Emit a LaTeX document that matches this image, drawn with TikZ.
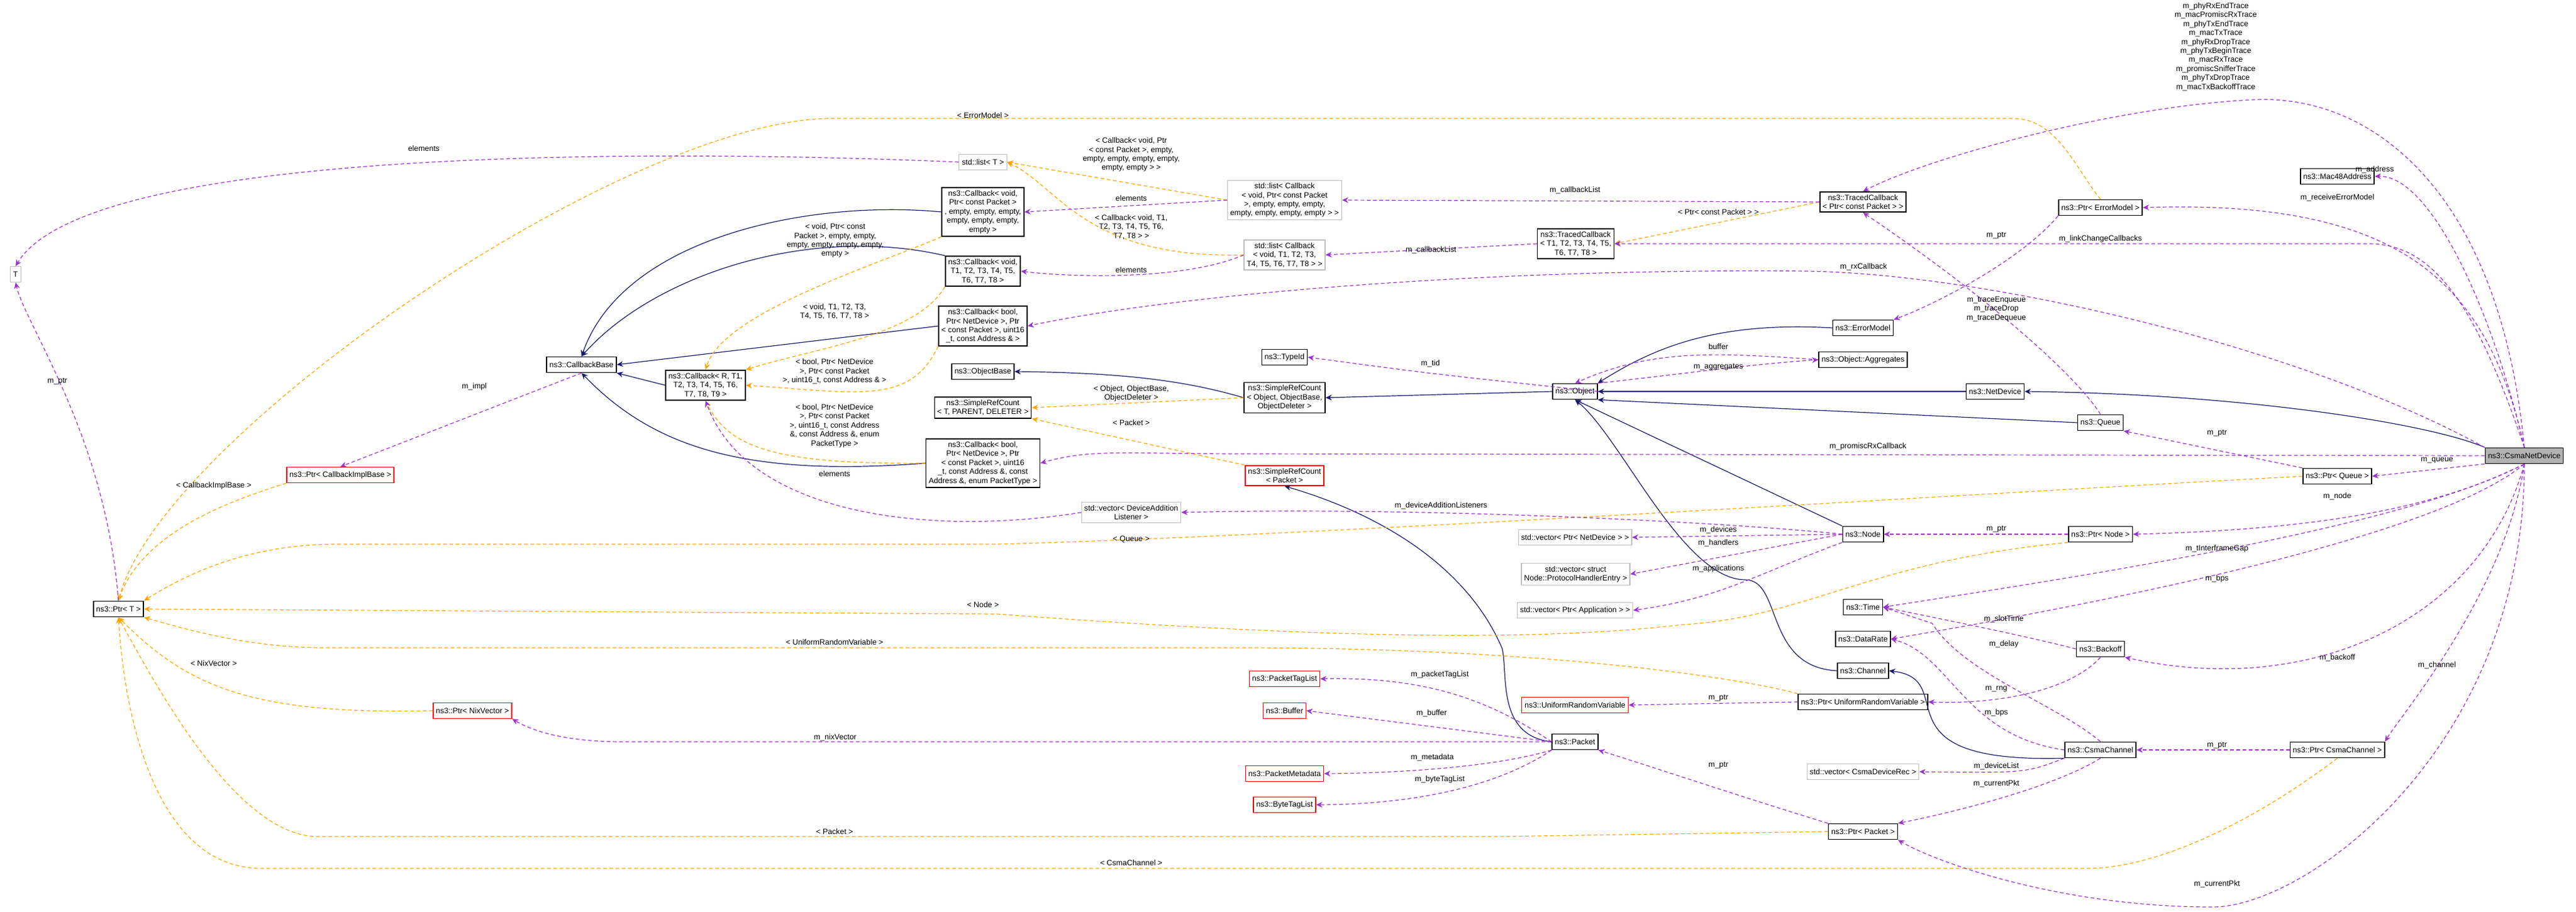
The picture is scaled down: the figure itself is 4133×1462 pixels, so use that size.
\documentclass[tikz,border=0pt]{standalone}
\usepackage{fontspec}
\setmainfont{Liberation Sans}
\usetikzlibrary{arrows.meta}
\usetikzlibrary{positioning}

\definecolor{inhblue}{RGB}{25,25,112}
\definecolor{usepurple}{RGB}{154,50,205}
\definecolor{tplorange}{RGB}{255,165,0}

\tikzset{
  box/.style={draw=black,line width=0.8pt,fill=white,inner sep=2.2pt,minimum height=12.5pt,align=center,font=\fontsize{6.2}{7.2}\selectfont},
  graybox/.style={box,draw=black!25,line width=0.6pt},
  redbox/.style={box,draw=red,line width=0.7pt},
  focus/.style={box,fill=black!30},
  lbl/.style={inner sep=0pt,align=center,font=\fontsize{6.2}{7.2}\selectfont},
  inh/.style={draw=inhblue,line width=0.6pt,-{Stealth[length=5pt,width=4.5pt]}},
  use/.style={draw=usepurple,line width=0.6pt,dashed,dash pattern=on 3pt off 2pt,-{Stealth[length=5pt,width=4.5pt]}},
  tpl/.style={draw=tplorange,line width=0.6pt,dashed,dash pattern=on 3pt off 2pt,-{Stealth[length=5pt,width=4.5pt]}}
}

\begin{document}
\begin{tikzpicture}[x=0.5pt,y=-0.5pt]
      \useasboundingbox (0,0) rectangle (4133,1462);
      % nodes
      \node[graybox] (T) at (25,440) {T};
      \node[box] (ptrT) at (190,977) {ns3::Ptr< T >};
      \node[box] (cbBase) at (933,585) {ns3::CallbackBase};
      \node[redbox] (ptrCbImpl) at (546,762) {ns3::Ptr< CallbackImplBase >};
      \node[redbox] (ptrNix) at (758,1140) {ns3::Ptr< NixVector >};
      \node[box] (cbR) at (1132,618) {ns3::Callback< R, T1,\\ T2, T3, T4, T5, T6,\\ T7, T8, T9 >};
      \node[graybox] (listT) at (1577,260) {std::list< T >};
      \node[box] (cbVoidPkt) at (1577,340) {ns3::Callback< void,\\ Ptr< const Packet >\\ , empty, empty, empty,\\ empty, empty, empty,\\ empty >};
      \node[box] (cbVoidT) at (1577,435) {ns3::Callback< void,\\ T1, T2, T3, T4, T5,\\ T6, T7, T8 >};
      \node[box] (cbBoolAddr) at (1577,523) {ns3::Callback< bool,\\ Ptr< NetDevice >, Ptr\\ < const Packet >, uint16\\ \_t, const Address \& >};
      \node[box] (objBase) at (1577,596) {ns3::ObjectBase};
      \node[box] (srcT) at (1577,654) {ns3::SimpleRefCount\\ < T, PARENT, DELETER >};
      \node[box] (cbBoolPkt) at (1577,743) {ns3::Callback< bool,\\ Ptr< NetDevice >, Ptr\\ < const Packet >, uint16\\ \_t, const Address \&, const\\ Address \&, enum PacketType >};
      \node[graybox] (devAddList) at (1815,822) {std::vector< DeviceAddition\\ Listener >};
      \node[graybox] (listCbPkt) at (2061,321) {std::list< Callback\\ < void, Ptr< const Packet\\ >, empty, empty, empty,\\ empty, empty, empty, empty > >};
      \node[graybox] (listCbT) at (2061,409) {std::list< Callback\\ < void, T1, T2, T3,\\ T4, T5, T6, T7, T8 > >};
      \node[box] (typeId) at (2061,573) {ns3::TypeId};
      \node[box] (srcObj) at (2061,638) {ns3::SimpleRefCount\\ < Object, ObjectBase,\\ ObjectDeleter >};
      \node[redbox] (srcPkt) at (2061,763) {ns3::SimpleRefCount\\ < Packet >};
      \node[redbox] (pktTagList) at (2061,1089) {ns3::PacketTagList};
      \node[redbox] (buffer) at (2061,1140) {ns3::Buffer};
      \node[redbox] (pktMeta) at (2061,1241) {ns3::PacketMetadata};
      \node[redbox] (byteTagList) at (2061,1291) {ns3::ByteTagList};
      \node[box] (tcT) at (2528,391) {ns3::TracedCallback\\ < T1, T2, T3, T4, T5,\\ T6, T7, T8 >};
      \node[box] (object) at (2527,628) {ns3::Object};
      \node[graybox] (vecNetDev) at (2527,862) {std::vector< Ptr< NetDevice > >};
      \node[graybox] (vecHandler) at (2528,921) {std::vector< struct\\ Node::ProtocolHandlerEntry >};
      \node[graybox] (vecApp) at (2527,979) {std::vector< Ptr< Application > >};
      \node[redbox] (urv) at (2527,1131) {ns3::UniformRandomVariable};
      \node[box] (packet) at (2527,1190) {ns3::Packet};
      \node[box] (tcPkt) at (2989,324) {ns3::TracedCallback\\ < Ptr< const Packet > >};
      \node[box] (errModel) at (2989,526) {ns3::ErrorModel};
      \node[box] (aggregates) at (2989,577) {ns3::Object::Aggregates};
      \node[box] (node) at (2989,857) {ns3::Node};
      \node[box] (time) at (2989,974) {ns3::Time};
      \node[box] (dataRate) at (2989,1025) {ns3::DataRate};
      \node[box] (channel) at (2989,1076) {ns3::Channel};
      \node[box] (ptrUrv) at (2989,1126) {ns3::Ptr< UniformRandomVariable >};
      \node[graybox] (vecCsmaRec) at (2989,1238) {std::vector< CsmaDeviceRec >};
      \node[box] (ptrPkt) at (2989,1334) {ns3::Ptr< Packet >};
      \node[box] (netDevice) at (3201,628) {ns3::NetDevice};
      \node[box] (ptrErr) at (3370,333) {ns3::Ptr< ErrorModel >};
      \node[box] (queue) at (3370,678) {ns3::Queue};
      \node[box] (ptrNode) at (3370,857) {ns3::Ptr< Node >};
      \node[box] (backoff) at (3370,1041) {ns3::Backoff};
      \node[box] (csmaChannel) at (3370,1203) {ns3::CsmaChannel};
      \node[box] (mac48) at (3750,283) {ns3::Mac48Address};
      \node[box] (ptrQueue) at (3750,764) {ns3::Ptr< Queue >};
      \node[box] (ptrCsmaChannel) at (3750,1203) {ns3::Ptr< CsmaChannel >};
      \node[focus] (csmaDev) at (4050,731) {ns3::CsmaNetDevice};

      % inheritance
      \draw[inh] (cbVoidPkt.west) .. controls (1300,320) and (1000,380) .. (cbBase.north);
      \draw[inh] (cbVoidT.north west) .. controls (1300,360) and (1050,440) .. (cbBase.north);
      \draw[inh] (cbBoolAddr.west) -- (cbBase.east);
      \draw[inh] (cbR.west) -- (cbBase.south east);
      \draw[inh] (cbBoolPkt.west) .. controls (1200,765) and (1050,720) .. (cbBase.south);
      \draw[inh] (srcObj.west) .. controls (1900,610) and (1800,598) .. (objBase.east);
      \draw[inh] (object.west) -- (srcObj.east);
      \draw[inh] (errModel.west) .. controls (2750,515) and (2650,560) .. (object.north east);
      \draw[inh] (netDevice.west) -- (object.east);
      \draw[inh] (queue.west) -- (object.south east);
      \draw[inh] (node.north west) -- (object.south);
      \draw[inh] (channel.west) .. controls (2830,1070) and (2860,930) .. (2800,930) .. controls (2700,930) and (2600,700) .. (object.south);
      \draw[inh] (csmaDev.north west) .. controls (3900,680) and (3600,632) .. (netDevice.east);
      \draw[inh] (csmaChannel.south west) .. controls (3000,1225) and (3150,1090) .. (channel.east);
      \draw[inh] (packet.west) .. controls (2400,1180) and (2420,1080) .. (2410,1040) .. controls (2350,900) and (2200,820) .. (srcPkt.south);

      % templates
      \draw[tpl] (listCbPkt.west) -- (listT.east);
      \draw[tpl] (listCbT.west) .. controls (1740,415) and (1700,300) .. (listT.east);
      \draw[tpl] (cbVoidPkt.south west) .. controls (1420,420) and (1160,500) .. (cbR.north);
      \draw[tpl] (cbVoidT.south west) .. controls (1470,540) and (1300,560) .. (cbR.north east);
      \draw[tpl] (cbBoolAddr.south west) .. controls (1460,650) and (1380,630) .. (cbR.east);
      \draw[tpl] (cbBoolPkt.west) .. controls (1250,745) and (1170,720) .. (cbR.south);
      \draw[tpl] (tcPkt.west) -- (tcT.east);
      \draw[tpl] (srcObj.west) -- (srcT.east);
      \draw[tpl] (srcPkt.north west) -- (srcT.south east);
      \draw[tpl] (ptrErr.north) .. controls (3330,270) and (3300,190) .. (3230,190) -- (1330,190) .. controls (1000,195) and (260,700) .. (ptrT.north);
      \draw[tpl] (ptrCbImpl.south west) .. controls (380,800) and (230,850) .. (ptrT.north);
      \draw[tpl] (ptrQueue.west) .. controls (3200,790) and (2100,860) .. (1600,873) -- (540,873) .. controls (400,873) and (300,920) .. (ptrT.north east);
      \draw[tpl] (ptrNode.south west) .. controls (3000,900) and (2900,990) .. (2700,1002) .. controls (2500,1025) and (2200,1030) .. (1600,985) -- (ptrT.east);
      \draw[tpl] (ptrUrv.north west) .. controls (2800,1090) and (2500,1040) .. (2000,1039) -- (520,1039) .. controls (400,1039) and (300,1010) .. (ptrT.south east);
      \draw[tpl] (ptrNix.west) .. controls (400,1147) and (300,1100) .. (ptrT.south);
      \draw[tpl] (ptrPkt.west) -- (2400,1342) -- (510,1342) .. controls (380,1342) and (250,1100) .. (ptrT.south);
      \draw[tpl] (ptrCsmaChannel.south) .. controls (3600,1330) and (3450,1393) .. (3350,1393) -- (420,1393) .. controls (250,1393) and (200,1150) .. (ptrT.south);

      % members
      \draw[use] (ptrT.north) .. controls (170,700) and (40,520) .. (T.south);
      \draw[use] (listT.west) .. controls (1200,245) and (150,220) .. (T.north);
      \draw[use] (cbBase.south) -- (ptrCbImpl.north);
      \draw[use] (listCbPkt.west) -- (cbVoidPkt.east);
      \draw[use] (listCbT.west) .. controls (1900,450) and (1720,445) .. (cbVoidT.east);
      \draw[use] (tcPkt.west) -- (listCbPkt.east);
      \draw[use] (tcT.west) -- (listCbT.east);
      \draw[use] (devAddList.west) .. controls (1500,860) and (1200,830) .. (cbR.south);
      \draw[use] (csmaDev.north) .. controls (4010,300) and (3800,150) .. (3615,160) .. controls (3400,170) and (3100,250) .. (tcPkt.north);
      \draw[use] (csmaDev.north) .. controls (4000,500) and (3900,280) .. (mac48.east);
      \draw[use] (csmaDev.north) .. controls (3990,450) and (3850,320) .. (ptrErr.east);
      \draw[use] (csmaDev.north) .. controls (3970,480) and (3900,391) .. (3800,391) -- (tcT.east);
      \draw[use] (csmaDev.north west) .. controls (3700,560) and (3200,440) .. (2900,435) .. controls (2400,430) and (1900,470) .. (cbBoolAddr.east);
      \draw[use] (csmaDev.west) -- (2000,728) .. controls (1800,728) and (1750,720) .. (cbBoolPkt.east);
      \draw[use] (ptrErr.south west) .. controls (3240,420) and (3100,490) .. (errModel.north east);
      \draw[use] (queue.north) .. controls (3330,600) and (3180,470) .. (tcPkt.south);
      \draw[use] (object.east) .. controls (2300,600) .. (typeId.east);
      \draw[use] (object.north east) .. controls (2700,600) and (2800,585) .. (aggregates.west);
      \draw[use] (aggregates.west) .. controls (2750,565) and (2650,560) .. (object.north);
      \draw[use] (ptrQueue.north west) -- (queue.south east);
      \draw[use] (csmaDev.south west) -- (ptrQueue.east);
      \draw[use] (node.west) .. controls (2800,840) and (2300,812) .. (devAddList.east);
      \draw[use] (node.west) -- (vecNetDev.east);
      \draw[use] (node.west) -- (vecHandler.east);
      \draw[use] (node.south west) .. controls (2820,920) and (2760,960) .. (vecApp.east);
      \draw[use] (ptrNode.west) -- (node.east);
      \draw[use] (csmaDev.south) .. controls (3900,820) and (3700,850) .. (ptrNode.east);
      \draw[use] (csmaDev.south) .. controls (3850,850) and (3300,930) .. (time.east);
      \draw[use] (csmaDev.south) .. controls (3900,870) and (3300,980) .. (dataRate.east);
      \draw[use] (csmaDev.south) .. controls (3980,1000) and (3700,1120) .. (backoff.south east);
      \draw[use] (csmaDev.south) .. controls (4020,950) and (3850,1150) .. (ptrCsmaChannel.north east);
      \draw[use] (csmaDev.south) .. controls (4050,1200) and (3700,1455) .. (3550,1455) .. controls (3300,1455) and (3100,1380) .. (ptrPkt.south east);
      \draw[use] (backoff.west) .. controls (3250,1020) and (3100,990) .. (time.east);
      \draw[use] (csmaChannel.north) .. controls (3300,1130) and (3150,1080) .. (3100,1000) -- (time.east);
      \draw[use] (backoff.south) .. controls (3320,1110) and (3200,1130) .. (ptrUrv.east);
      \draw[use] (csmaChannel.west) .. controls (3150,1180) and (3130,1050) .. (dataRate.east);
      \draw[use] (ptrUrv.west) -- (urv.east);
      \draw[use] (ptrCsmaChannel.west) -- (csmaChannel.east);
      \draw[use] (csmaChannel.south west) .. controls (3250,1240) .. (vecCsmaRec.east);
      \draw[use] (csmaChannel.south) .. controls (3300,1260) and (3150,1300) .. (ptrPkt.north east);
      \draw[use] (ptrPkt.north west) .. controls (2800,1280) and (2650,1230) .. (packet.south east);
      \draw[use] (packet.west) .. controls (2400,1130) and (2300,1085) .. (pktTagList.east);
      \draw[use] (packet.west) -- (buffer.east);
      \draw[use] (packet.south west) .. controls (2400,1230) and (2250,1240) .. (pktMeta.east);
      \draw[use] (packet.south west) .. controls (2420,1250) and (2300,1290) .. (byteTagList.east);
      \draw[use] (packet.west) -- (1000,1190) .. controls (900,1190) and (850,1170) .. (ptrNix.south east);

      % labels
      \node[lbl] (lTraces) at (3555,75) {m\_phyRxEndTrace\\ m\_macPromiscRxTrace\\ m\_phyTxEndTrace\\ m\_macTxTrace\\ m\_phyRxDropTrace\\ m\_phyTxBeginTrace\\ m\_macRxTrace\\ m\_promiscSnifferTrace\\ m\_phyTxDropTrace\\ m\_macTxBackoffTrace};
      \node[lbl] (lErr) at (1577,185) {< ErrorModel >};
      \node[lbl] (lElemT) at (680,238) {elements};
      \node[lbl] (lTplPkt) at (1815,248) {< Callback< void, Ptr\\ < const Packet >, empty,\\ empty, empty, empty, empty,\\ empty, empty > >};
      \node[lbl] (lElemPkt) at (1815,318) {elements};
      \node[lbl] (lTplT) at (1815,364) {< Callback< void, T1,\\ T2, T3, T4, T5, T6,\\ T7, T8 > >};
      \node[lbl] (lElemVT) at (1815,433) {elements};
      \node[lbl] (lCbList1) at (2527,305) {m\_callbackList};
      \node[lbl] (lCbList2) at (2296,401) {m\_callbackList};
      \node[lbl] (lTcPkt) at (2757,340) {< Ptr< const Packet > >};
      \node[lbl] (lAddr) at (3810,272) {m\_address};
      \node[lbl] (lRecvErr) at (3750,317) {m\_receiveErrorModel};
      \node[lbl] (lLink) at (3370,383) {m\_linkChangeCallbacks};
      \node[lbl] (lPtrErr) at (3203,378) {m\_ptr};
      \node[lbl] (lRx) at (2990,428) {m\_rxCallback};
      \node[lbl] (lTrQ) at (3203,496) {m\_traceEnqueue\\ m\_traceDrop\\ m\_traceDequeue};
      \node[lbl] (lVoidPkt) at (1340,386) {< void, Ptr< const\\ Packet >, empty, empty,\\ empty, empty, empty, empty,\\ empty >};
      \node[lbl] (lVoidT) at (1339,500) {< void, T1, T2, T3,\\ T4, T5, T6, T7, T8 >};
      \node[lbl] (lBoolAddr) at (1339,596) {< bool, Ptr< NetDevice\\ >, Ptr< const Packet\\ >, uint16\_t, const Address \& >};
      \node[lbl] (lBoolPkt) at (1339,683) {< bool, Ptr< NetDevice\\ >, Ptr< const Packet\\ >, uint16\_t, const Address\\ \&, const Address \&, enum\\ PacketType >};
      \node[lbl] (lImpl) at (761,620) {m\_impl};
      \node[lbl] (lPtrT) at (92,612) {m\_ptr};
      \node[lbl] (lCbImpl) at (343,779) {< CallbackImplBase >};
      \node[lbl] (lTid) at (2295,583) {m\_tid};
      \node[lbl] (lBuf) at (2757,556) {buffer};
      \node[lbl] (lAgg) at (2757,589) {m\_aggregates};
      \node[lbl] (lSrcObj) at (1815,631) {< Object, ObjectBase,\\ ObjectDeleter >};
      \node[lbl] (lSrcPkt) at (1815,678) {< Packet >};
      \node[lbl] (lPromisc) at (2997,716) {m\_promiscRxCallback};
      \node[lbl] (lPtrQ) at (3557,695) {m\_ptr};
      \node[lbl] (lQueue) at (3910,738) {m\_queue};
      \node[lbl] (lElemDev) at (1339,760) {elements};
      \node[lbl] (lDevAdd) at (2312,811) {m\_deviceAdditionListeners};
      \node[lbl] (lQ) at (1815,865) {< Queue >};
      \node[lbl] (lDevs) at (2757,850) {m\_devices};
      \node[lbl] (lHand) at (2757,871) {m\_handlers};
      \node[lbl] (lApps) at (2757,912) {m\_applications};
      \node[lbl] (lPtrNode) at (3203,849) {m\_ptr};
      \node[lbl] (lNode) at (3750,796) {m\_node};
      \node[lbl] (lNodeT) at (1577,970) {< Node >};
      \node[lbl] (lGap) at (3557,880) {m\_tInterframeGap};
      \node[lbl] (lBps) at (3557,928) {m\_bps};
      \node[lbl] (lSlot) at (3215,993) {m\_slotTime};
      \node[lbl] (lDelay) at (3215,1033) {m\_delay};
      \node[lbl] (lUrvT) at (1339,1030) {< UniformRandomVariable >};
      \node[lbl] (lNixT) at (343,1064) {< NixVector >};
      \node[lbl] (lBackoff) at (3750,1055) {m\_backoff};
      \node[lbl] (lChan) at (3910,1067) {m\_channel};
      \node[lbl] (lPktTag) at (2310,1082) {m\_packetTagList};
      \node[lbl] (lRng) at (3203,1105) {m\_rng};
      \node[lbl] (lPtrUrv) at (2757,1120) {m\_ptr};
      \node[lbl] (lBuffer) at (2297,1144) {m\_buffer};
      \node[lbl] (lBps2) at (3203,1143) {m\_bps};
      \node[lbl] (lNix) at (1340,1183) {m\_nixVector};
      \node[lbl] (lPtrCsma) at (3557,1196) {m\_ptr};
      \node[lbl] (lMeta) at (2298,1215) {m\_metadata};
      \node[lbl] (lPtrPkt) at (2757,1228) {m\_ptr};
      \node[lbl] (lDevList) at (3203,1229) {m\_deviceList};
      \node[lbl] (lByte) at (2310,1250) {m\_byteTagList};
      \node[lbl] (lCurPkt) at (3203,1257) {m\_currentPkt};
      \node[lbl] (lPktT) at (1339,1334) {< Packet >};
      \node[lbl] (lCsmaT) at (1815,1384) {< CsmaChannel >};
      \node[lbl] (lCurPkt2) at (3557,1418) {m\_currentPkt};
\end{tikzpicture}
\end{document}
